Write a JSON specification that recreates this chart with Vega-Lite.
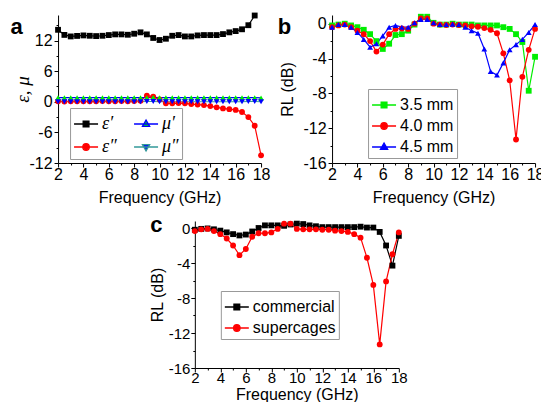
{
"$schema": "https://vega.github.io/schema/vega-lite/v6.json",
"padding": {"left": 9, "top": 12, "right": 0, "bottom": 0},
"datasets": {
"a": [
{"f":2,"v":14.1,"s":"ε′"},{"f":2.5,"v":13.1,"s":"ε′"},{"f":3,"v":12.8,"s":"ε′"},{"f":3.5,"v":12.9,"s":"ε′"},{"f":4,"v":13.0,"s":"ε′"},{"f":4.5,"v":12.93,"s":"ε′"},{"f":5,"v":12.87,"s":"ε′"},{"f":5.5,"v":12.93,"s":"ε′"},{"f":6,"v":13.07,"s":"ε′"},{"f":6.5,"v":13.2,"s":"ε′"},{"f":7,"v":13.2,"s":"ε′"},{"f":7.5,"v":13.13,"s":"ε′"},{"f":8,"v":13.33,"s":"ε′"},{"f":8.5,"v":13.6,"s":"ε′"},{"f":9,"v":13.2,"s":"ε′"},{"f":9.5,"v":12.5,"s":"ε′"},{"f":10,"v":12.1,"s":"ε′"},{"f":10.5,"v":12.35,"s":"ε′"},{"f":11,"v":12.93,"s":"ε′"},{"f":11.5,"v":13.07,"s":"ε′"},{"f":12,"v":12.8,"s":"ε′"},{"f":12.5,"v":12.8,"s":"ε′"},{"f":13,"v":13.0,"s":"ε′"},{"f":13.5,"v":13.07,"s":"ε′"},{"f":14,"v":13.07,"s":"ε′"},{"f":14.5,"v":13.07,"s":"ε′"},{"f":15,"v":13.26,"s":"ε′"},{"f":15.5,"v":13.6,"s":"ε′"},{"f":16,"v":13.85,"s":"ε′"},{"f":16.5,"v":14.2,"s":"ε′"},{"f":17,"v":15.0,"s":"ε′"},{"f":17.5,"v":16.9,"s":"ε′"},
{"f":2,"v":0.1,"s":"ε″"},{"f":2.5,"v":0.05,"s":"ε″"},{"f":3,"v":0.1,"s":"ε″"},{"f":3.5,"v":0.1,"s":"ε″"},{"f":4,"v":0.1,"s":"ε″"},{"f":4.5,"v":0.1,"s":"ε″"},{"f":5,"v":0.1,"s":"ε″"},{"f":5.5,"v":0.15,"s":"ε″"},{"f":6,"v":0.1,"s":"ε″"},{"f":6.5,"v":0.1,"s":"ε″"},{"f":7,"v":0.15,"s":"ε″"},{"f":7.5,"v":0.1,"s":"ε″"},{"f":8,"v":0.15,"s":"ε″"},{"f":8.5,"v":0.2,"s":"ε″"},{"f":9,"v":1.2,"s":"ε″"},{"f":9.5,"v":1.0,"s":"ε″"},{"f":10,"v":0.45,"s":"ε″"},{"f":10.5,"v":-0.3,"s":"ε″"},{"f":11,"v":-0.3,"s":"ε″"},{"f":11.5,"v":-0.25,"s":"ε″"},{"f":12,"v":-0.3,"s":"ε″"},{"f":12.5,"v":-0.45,"s":"ε″"},{"f":13,"v":-0.55,"s":"ε″"},{"f":13.5,"v":-0.65,"s":"ε″"},{"f":14,"v":-0.85,"s":"ε″"},{"f":14.5,"v":-1.1,"s":"ε″"},{"f":15,"v":-1.3,"s":"ε″"},{"f":15.5,"v":-1.45,"s":"ε″"},{"f":16,"v":-1.6,"s":"ε″"},{"f":16.5,"v":-2.0,"s":"ε″"},{"f":17,"v":-3.0,"s":"ε″"},{"f":17.5,"v":-4.7,"s":"ε″"},{"f":18,"v":-10.5,"s":"ε″"},
{"f":2,"v":0.8,"s":"μ′"},{"f":2.5,"v":0.8,"s":"μ′"},{"f":3,"v":0.8,"s":"μ′"},{"f":3.5,"v":0.8,"s":"μ′"},{"f":4,"v":0.8,"s":"μ′"},{"f":4.5,"v":0.8,"s":"μ′"},{"f":5,"v":0.8,"s":"μ′"},{"f":5.5,"v":0.8,"s":"μ′"},{"f":6,"v":0.8,"s":"μ′"},{"f":6.5,"v":0.8,"s":"μ′"},{"f":7,"v":0.8,"s":"μ′"},{"f":7.5,"v":0.8,"s":"μ′"},{"f":8,"v":0.8,"s":"μ′"},{"f":8.5,"v":0.8,"s":"μ′"},{"f":9,"v":0.8,"s":"μ′"},{"f":9.5,"v":0.85,"s":"μ′"},{"f":10,"v":0.8,"s":"μ′"},{"f":10.5,"v":0.8,"s":"μ′"},{"f":11,"v":0.8,"s":"μ′"},{"f":11.5,"v":0.8,"s":"μ′"},{"f":12,"v":0.8,"s":"μ′"},{"f":12.5,"v":0.8,"s":"μ′"},{"f":13,"v":0.8,"s":"μ′"},{"f":13.5,"v":0.8,"s":"μ′"},{"f":14,"v":0.8,"s":"μ′"},{"f":14.5,"v":0.8,"s":"μ′"},{"f":15,"v":0.8,"s":"μ′"},{"f":15.5,"v":0.8,"s":"μ′"},{"f":16,"v":0.8,"s":"μ′"},{"f":16.5,"v":0.8,"s":"μ′"},{"f":17,"v":0.8,"s":"μ′"},{"f":17.5,"v":0.8,"s":"μ′"},{"f":18,"v":0.75,"s":"μ′"},
{"f":2,"v":0.0,"s":"μ″"},{"f":2.5,"v":0.0,"s":"μ″"},{"f":3,"v":0.0,"s":"μ″"},{"f":3.5,"v":0.0,"s":"μ″"},{"f":4,"v":0.0,"s":"μ″"},{"f":4.5,"v":0.0,"s":"μ″"},{"f":5,"v":0.0,"s":"μ″"},{"f":5.5,"v":0.0,"s":"μ″"},{"f":6,"v":0.0,"s":"μ″"},{"f":6.5,"v":0.0,"s":"μ″"},{"f":7,"v":0.0,"s":"μ″"},{"f":7.5,"v":0.0,"s":"μ″"},{"f":8,"v":0.0,"s":"μ″"},{"f":8.5,"v":0.0,"s":"μ″"},{"f":9,"v":0.05,"s":"μ″"},{"f":9.5,"v":0.05,"s":"μ″"},{"f":10,"v":0.0,"s":"μ″"},{"f":10.5,"v":0.0,"s":"μ″"},{"f":11,"v":0.0,"s":"μ″"},{"f":11.5,"v":0.0,"s":"μ″"},{"f":12,"v":0.0,"s":"μ″"},{"f":12.5,"v":0.0,"s":"μ″"},{"f":13,"v":0.0,"s":"μ″"},{"f":13.5,"v":0.0,"s":"μ″"},{"f":14,"v":0.0,"s":"μ″"},{"f":14.5,"v":0.0,"s":"μ″"},{"f":15,"v":0.0,"s":"μ″"},{"f":15.5,"v":0.0,"s":"μ″"},{"f":16,"v":0.0,"s":"μ″"},{"f":16.5,"v":0.0,"s":"μ″"},{"f":17,"v":0.05,"s":"μ″"},{"f":17.5,"v":0.05,"s":"μ″"},{"f":18,"v":0.0,"s":"μ″"}
],
"b": [
{"f":2,"v":-0.2,"s":"3.5 mm"},{"f":2.5,"v":-0.1,"s":"3.5 mm"},{"f":3,"v":0.0,"s":"3.5 mm"},{"f":3.5,"v":-0.2,"s":"3.5 mm"},{"f":4,"v":-0.4,"s":"3.5 mm"},{"f":4.5,"v":-0.7,"s":"3.5 mm"},{"f":5,"v":-1.2,"s":"3.5 mm"},{"f":5.5,"v":-2.0,"s":"3.5 mm"},{"f":6,"v":-2.9,"s":"3.5 mm"},{"f":6.5,"v":-2.3,"s":"3.5 mm"},{"f":7,"v":-1.3,"s":"3.5 mm"},{"f":7.5,"v":-1.2,"s":"3.5 mm"},{"f":8,"v":-0.8,"s":"3.5 mm"},{"f":8.5,"v":-0.1,"s":"3.5 mm"},{"f":9,"v":0.8,"s":"3.5 mm"},{"f":9.5,"v":0.8,"s":"3.5 mm"},{"f":10,"v":0.1,"s":"3.5 mm"},{"f":10.5,"v":-0.1,"s":"3.5 mm"},{"f":11,"v":-0.1,"s":"3.5 mm"},{"f":11.5,"v":0.0,"s":"3.5 mm"},{"f":12,"v":-0.1,"s":"3.5 mm"},{"f":12.5,"v":-0.1,"s":"3.5 mm"},{"f":13,"v":-0.1,"s":"3.5 mm"},{"f":13.5,"v":-0.2,"s":"3.5 mm"},{"f":14,"v":-0.2,"s":"3.5 mm"},{"f":14.5,"v":-0.2,"s":"3.5 mm"},{"f":15,"v":-0.2,"s":"3.5 mm"},{"f":15.5,"v":-0.4,"s":"3.5 mm"},{"f":16,"v":-0.6,"s":"3.5 mm"},{"f":16.5,"v":-1.2,"s":"3.5 mm"},{"f":17,"v":-2.1,"s":"3.5 mm"},{"f":17.5,"v":-7.7,"s":"3.5 mm"},{"f":18,"v":-3.8,"s":"3.5 mm"},
{"f":2,"v":-0.4,"s":"4.0 mm"},{"f":2.5,"v":-0.2,"s":"4.0 mm"},{"f":3,"v":-0.1,"s":"4.0 mm"},{"f":3.5,"v":-0.4,"s":"4.0 mm"},{"f":4,"v":-0.8,"s":"4.0 mm"},{"f":4.5,"v":-1.2,"s":"4.0 mm"},{"f":5,"v":-2.0,"s":"4.0 mm"},{"f":5.5,"v":-3.2,"s":"4.0 mm"},{"f":6,"v":-2.4,"s":"4.0 mm"},{"f":6.5,"v":-1.2,"s":"4.0 mm"},{"f":7,"v":-0.6,"s":"4.0 mm"},{"f":7.5,"v":-0.55,"s":"4.0 mm"},{"f":8,"v":-0.6,"s":"4.0 mm"},{"f":8.5,"v":0.0,"s":"4.0 mm"},{"f":9,"v":0.6,"s":"4.0 mm"},{"f":9.5,"v":0.6,"s":"4.0 mm"},{"f":10,"v":0.0,"s":"4.0 mm"},{"f":10.5,"v":-0.1,"s":"4.0 mm"},{"f":11,"v":-0.15,"s":"4.0 mm"},{"f":11.5,"v":-0.1,"s":"4.0 mm"},{"f":12,"v":-0.15,"s":"4.0 mm"},{"f":12.5,"v":-0.2,"s":"4.0 mm"},{"f":13,"v":-0.3,"s":"4.0 mm"},{"f":13.5,"v":-0.35,"s":"4.0 mm"},{"f":14,"v":-0.5,"s":"4.0 mm"},{"f":14.5,"v":-0.7,"s":"4.0 mm"},{"f":15,"v":-1.1,"s":"4.0 mm"},{"f":15.5,"v":-3.4,"s":"4.0 mm"},{"f":16,"v":-6.5,"s":"4.0 mm"},{"f":16.5,"v":-13.3,"s":"4.0 mm"},{"f":17,"v":-6.1,"s":"4.0 mm"},{"f":17.5,"v":-3.0,"s":"4.0 mm"},{"f":18,"v":-0.6,"s":"4.0 mm"},
{"f":2,"v":-0.4,"s":"4.5 mm"},{"f":2.5,"v":-0.1,"s":"4.5 mm"},{"f":3,"v":-0.1,"s":"4.5 mm"},{"f":3.5,"v":-0.4,"s":"4.5 mm"},{"f":4,"v":-1.0,"s":"4.5 mm"},{"f":4.5,"v":-1.8,"s":"4.5 mm"},{"f":5,"v":-2.7,"s":"4.5 mm"},{"f":5.5,"v":-2.3,"s":"4.5 mm"},{"f":6,"v":-1.4,"s":"4.5 mm"},{"f":6.5,"v":-0.4,"s":"4.5 mm"},{"f":7,"v":-0.2,"s":"4.5 mm"},{"f":7.5,"v":-0.4,"s":"4.5 mm"},{"f":8,"v":-0.4,"s":"4.5 mm"},{"f":8.5,"v":0.1,"s":"4.5 mm"},{"f":9,"v":0.5,"s":"4.5 mm"},{"f":9.5,"v":0.5,"s":"4.5 mm"},{"f":10,"v":0.1,"s":"4.5 mm"},{"f":10.5,"v":-0.1,"s":"4.5 mm"},{"f":11,"v":-0.1,"s":"4.5 mm"},{"f":11.5,"v":-0.05,"s":"4.5 mm"},{"f":12,"v":-0.1,"s":"4.5 mm"},{"f":12.5,"v":-0.4,"s":"4.5 mm"},{"f":13,"v":-0.8,"s":"4.5 mm"},{"f":13.5,"v":-1.1,"s":"4.5 mm"},{"f":14,"v":-2.9,"s":"4.5 mm"},{"f":14.5,"v":-5.5,"s":"4.5 mm"},{"f":15,"v":-5.9,"s":"4.5 mm"},{"f":15.5,"v":-4.5,"s":"4.5 mm"},{"f":16,"v":-3.0,"s":"4.5 mm"},{"f":16.5,"v":-2.4,"s":"4.5 mm"},{"f":17,"v":-1.8,"s":"4.5 mm"},{"f":17.5,"v":-1.0,"s":"4.5 mm"},{"f":18,"v":-0.1,"s":"4.5 mm"}
],
"c": [
{"f":2,"v":-0.2,"s":"commercial"},{"f":2.5,"v":-0.1,"s":"commercial"},{"f":3,"v":-0.05,"s":"commercial"},{"f":3.5,"v":-0.15,"s":"commercial"},{"f":4,"v":-0.3,"s":"commercial"},{"f":4.5,"v":-0.5,"s":"commercial"},{"f":5,"v":-0.7,"s":"commercial"},{"f":5.5,"v":-0.85,"s":"commercial"},{"f":6,"v":-0.75,"s":"commercial"},{"f":6.5,"v":-0.4,"s":"commercial"},{"f":7,"v":0.0,"s":"commercial"},{"f":7.5,"v":0.3,"s":"commercial"},{"f":8,"v":0.3,"s":"commercial"},{"f":8.5,"v":0.3,"s":"commercial"},{"f":9,"v":0.25,"s":"commercial"},{"f":9.5,"v":0.4,"s":"commercial"},{"f":10,"v":0.5,"s":"commercial"},{"f":10.5,"v":0.45,"s":"commercial"},{"f":11,"v":0.3,"s":"commercial"},{"f":11.5,"v":0.2,"s":"commercial"},{"f":12,"v":0.1,"s":"commercial"},{"f":12.5,"v":0.1,"s":"commercial"},{"f":13,"v":0.1,"s":"commercial"},{"f":13.5,"v":0.1,"s":"commercial"},{"f":14,"v":0.1,"s":"commercial"},{"f":14.5,"v":0.1,"s":"commercial"},{"f":15,"v":0.15,"s":"commercial"},{"f":15.5,"v":0.05,"s":"commercial"},{"f":16,"v":0.05,"s":"commercial"},{"f":16.5,"v":-0.45,"s":"commercial"},{"f":17,"v":-2.0,"s":"commercial"},{"f":17.5,"v":-4.3,"s":"commercial"},{"f":18,"v":-0.9,"s":"commercial"},
{"f":2,"v":-0.35,"s":"supercages"},{"f":2.5,"v":-0.15,"s":"supercages"},{"f":3,"v":-0.1,"s":"supercages"},{"f":3.5,"v":-0.35,"s":"supercages"},{"f":4,"v":-0.7,"s":"supercages"},{"f":4.5,"v":-1.2,"s":"supercages"},{"f":5,"v":-2.0,"s":"supercages"},{"f":5.5,"v":-3.1,"s":"supercages"},{"f":6,"v":-2.4,"s":"supercages"},{"f":6.5,"v":-1.0,"s":"supercages"},{"f":7,"v":-0.6,"s":"supercages"},{"f":7.5,"v":-0.6,"s":"supercages"},{"f":8,"v":-0.5,"s":"supercages"},{"f":8.5,"v":-0.1,"s":"supercages"},{"f":9,"v":0.5,"s":"supercages"},{"f":9.5,"v":0.5,"s":"supercages"},{"f":10,"v":-0.1,"s":"supercages"},{"f":10.5,"v":-0.15,"s":"supercages"},{"f":11,"v":-0.15,"s":"supercages"},{"f":11.5,"v":-0.15,"s":"supercages"},{"f":12,"v":-0.2,"s":"supercages"},{"f":12.5,"v":-0.2,"s":"supercages"},{"f":13,"v":-0.3,"s":"supercages"},{"f":13.5,"v":-0.35,"s":"supercages"},{"f":14,"v":-0.45,"s":"supercages"},{"f":14.5,"v":-0.7,"s":"supercages"},{"f":15,"v":-1.1,"s":"supercages"},{"f":15.5,"v":-3.4,"s":"supercages"},{"f":16,"v":-6.5,"s":"supercages"},{"f":16.5,"v":-13.3,"s":"supercages"},{"f":17,"v":-6.1,"s":"supercages"},{"f":17.5,"v":-3.0,"s":"supercages"},{"f":18,"v":-0.5,"s":"supercages"}
]
},
"vconcat": [
{
"hconcat": [
{
"width": 203, "height": 148,
"data": {"name": "a"},
"layer": [
{"mark": {"type": "line", "strokeWidth": 1.2},
 "encoding": {
  "x": {"field": "f", "type": "quantitative", "scale": {"domain": [2, 18], "nice": false, "zero": false},
        "axis": {"orient": "bottom", "title": "Frequency (GHz)", "labelPadding": -1, "titlePadding": 7, "values": [2,4,6,8,10,12,14,16,18], "labelExpr": "'' + datum.value", "tickSize": 4}},
  "y": {"field": "v", "type": "quantitative", "scale": {"domain": [-12, 17], "nice": false, "zero": false},
        "axis": {"orient": "left", "title": "ε, μ", "titleFont": "Liberation Serif", "titleFontStyle": "italic", "titleFontSize": 19, "titlePadding": -4, "values": [-12,-6,0,6,12], "labelExpr": "'' + datum.value", "tickSize": 4}},
  "stroke": {"field": "s", "type": "nominal", "scale": {"domain": ["ε′","ε″","μ′","μ″"], "range": ["#000000","#ff0000","#0000ff","#339999"]}, "legend": null}
 }},
{"mark": {"type": "point", "filled": true, "size": 34, "opacity": 1},
 "encoding": {
  "x": {"field": "f", "type": "quantitative", "axis": {"orient": "bottom", "title": null, "labels": false, "domain": false, "tickSize": 2, "values": [3,5,7,9,11,13,15,17]}},
  "y": {"field": "v", "type": "quantitative", "axis": {"orient": "left", "title": "a", "titleAngle": 0, "titleAlign": "center", "titleBaseline": "alphabetic", "titleX": -42, "titleY": 18, "titleFontSize": 22, "titleFontWeight": "bold", "labels": false, "domain": false, "tickSize": 2, "values": [-9,-3,3,9,15]}},
  "color": {"field": "s", "type": "nominal", "scale": {"domain": ["ε′","ε″","μ′","μ″"], "range": ["#000000","#ff0000","#00ee00","#0000ff"]}, "legend": null},
  "shape": {"field": "s", "type": "nominal", "scale": {"domain": ["ε′","ε″","μ′","μ″"], "range": ["square","circle","triangle-up","triangle-down"]}, "legend": null}
 }},
{"mark": {"type": "point", "opacity": 0, "filled": true, "strokeWidth": 1.3},
 "encoding": {
  "x": {"field": "f", "type": "quantitative", "axis": null},
  "y": {"field": "v", "type": "quantitative", "axis": null},
  "fill": {"field": "s", "type": "nominal", "scale": {"domain": ["ε′","ε″","μ′","μ″"], "range": ["#000000","#ff0000","#00ee00","#0000ff"]},
           "legend": {"orient": "none", "legendX": 12, "legendY": 93, "title": null, "columns": 2, "columnPadding": 14, "rowPadding": 1, "labelFont": "Liberation Serif", "labelFontStyle": "italic", "labelFontSize": 18, "direction": "vertical"}},
  "stroke": {"field": "s", "type": "nominal", "scale": {"domain": ["ε′","ε″","μ′","μ″"], "range": ["#000000","#ff0000","#0000ff","#339999"]},
           "legend": {"orient": "none", "legendX": 12, "legendY": 93, "title": null, "columns": 2, "columnPadding": 14, "rowPadding": 1, "labelFont": "Liberation Serif", "labelFontStyle": "italic", "labelFontSize": 18, "direction": "vertical"}},
  "shape": {"field": "s", "type": "nominal", "scale": {"domain": ["ε′","ε″","μ′","μ″"], "range": ["M-1,0H1M-0.24,-0.24H0.24V0.24H-0.24Z","M-1,0H1M-0.27,0A0.27,0.27 0 1,0 0.27,0A0.27,0.27 0 1,0 -0.27,0Z","M-1,0H1M0,-0.32L0.3,0.2L-0.3,0.2Z","M-1,0H1M0,0.32L0.3,-0.2L-0.3,-0.2Z"]},
           "legend": {"orient": "none", "legendX": 12, "legendY": 93, "title": null, "columns": 2, "columnPadding": 14, "rowPadding": 1, "labelFont": "Liberation Serif", "labelFontStyle": "italic", "labelFontSize": 18, "direction": "vertical"}}
 }}
],
"resolve": {"scale": {"color": "independent", "fill": "independent", "stroke": "independent", "shape": "independent"}, "axis": {"x": "independent", "y": "independent"}}
},
{
"width": 203, "height": 148,
"data": {"name": "b"},
"layer": [
{"mark": {"type": "line", "strokeWidth": 1.2},
 "encoding": {
  "x": {"field": "f", "type": "quantitative", "scale": {"domain": [2, 18], "nice": false, "zero": false},
        "axis": {"orient": "bottom", "title": "Frequency (GHz)", "labelPadding": -1, "titlePadding": 7, "values": [2,4,6,8,10,12,14,16,18], "labelExpr": "'' + datum.value", "tickSize": 4}},
  "y": {"field": "v", "type": "quantitative", "scale": {"domain": [-16, 1], "nice": false, "zero": false},
        "axis": {"orient": "left", "title": "RL (dB)", "titlePadding": 7, "values": [-16,-12,-8,-4,0], "labelExpr": "'' + datum.value", "tickSize": 4}},
  "stroke": {"field": "s", "type": "nominal", "scale": {"domain": ["3.5 mm","4.0 mm","4.5 mm"], "range": ["#00ee00","#ff0000","#0000ff"]}, "legend": null}
 }},
{"mark": {"type": "point", "filled": true, "size": 34, "opacity": 1},
 "encoding": {
  "x": {"field": "f", "type": "quantitative", "axis": {"orient": "bottom", "title": null, "labels": false, "domain": false, "tickSize": 2, "values": [3,5,7,9,11,13,15,17]}},
  "y": {"field": "v", "type": "quantitative", "axis": {"orient": "left", "title": "b", "titleAngle": 0, "titleAlign": "center", "titleBaseline": "alphabetic", "titleX": -48, "titleY": 18, "titleFontSize": 22, "titleFontWeight": "bold", "labels": false, "domain": false, "tickSize": 2, "values": [-14,-10,-6,-2]}},
  "color": {"field": "s", "type": "nominal", "scale": {"domain": ["3.5 mm","4.0 mm","4.5 mm"], "range": ["#00ee00","#ff0000","#0000ff"]}, "legend": null},
  "shape": {"field": "s", "type": "nominal", "scale": {"domain": ["3.5 mm","4.0 mm","4.5 mm"], "range": ["square","circle","triangle-up"]}, "legend": null}
 }},
{"mark": {"type": "point", "opacity": 0, "filled": true, "strokeWidth": 1.3},
 "encoding": {
  "x": {"field": "f", "type": "quantitative", "axis": null},
  "y": {"field": "v", "type": "quantitative", "axis": null},
  "fill": {"field": "s", "type": "nominal", "scale": {"domain": ["3.5 mm","4.0 mm","4.5 mm"], "range": ["#00ee00","#ff0000","#0000ff"]},
           "legend": {"orient": "none", "legendX": 36, "legendY": 74, "title": null, "direction": "vertical"}},
  "stroke": {"field": "s", "type": "nominal", "scale": {"domain": ["3.5 mm","4.0 mm","4.5 mm"], "range": ["#00ee00","#ff0000","#0000ff"]},
           "legend": {"orient": "none", "legendX": 36, "legendY": 74, "title": null, "direction": "vertical"}},
  "shape": {"field": "s", "type": "nominal", "scale": {"domain": ["3.5 mm","4.0 mm","4.5 mm"], "range": ["M-1,0H1M-0.24,-0.24H0.24V0.24H-0.24Z","M-1,0H1M-0.27,0A0.27,0.27 0 1,0 0.27,0A0.27,0.27 0 1,0 -0.27,0Z","M-1,0H1M0,-0.32L0.3,0.2L-0.3,0.2Z"]},
           "legend": {"orient": "none", "legendX": 36, "legendY": 74, "title": null, "direction": "vertical"}}
 }}
],
"resolve": {"scale": {"color": "independent", "fill": "independent", "stroke": "independent", "shape": "independent"}, "axis": {"x": "independent", "y": "independent"}}
}
],
"spacing": 7,
"resolve": {"scale": {"color": "independent", "fill": "independent", "stroke": "independent", "shape": "independent"}}
},
{
"width": 204, "height": 147,
"data": {"name": "c"},
"layer": [
{"mark": {"type": "line", "strokeWidth": 1.2},
 "encoding": {
  "x": {"field": "f", "type": "quantitative", "scale": {"domain": [2, 18], "nice": false, "zero": false},
        "axis": {"orient": "bottom", "title": "Frequency (GHz)", "labelFontSize": 15, "labelPadding": -2, "titlePadding": 1, "values": [2,4,6,8,10,12,14,16,18], "labelExpr": "'' + datum.value", "tickSize": 4}},
  "y": {"field": "v", "type": "quantitative", "scale": {"domain": [-16, 0.8], "nice": false, "zero": false},
        "axis": {"orient": "left", "title": "RL (dB)", "labelFontSize": 15, "labelPadding": 1, "titlePadding": 3, "values": [-16,-12,-8,-4,0], "labelExpr": "'' + datum.value", "tickSize": 4}},
  "stroke": {"field": "s", "type": "nominal", "scale": {"domain": ["commercial","supercages"], "range": ["#000000","#ff0000"]}, "legend": null}
 }},
{"mark": {"type": "point", "filled": true, "size": 34, "opacity": 1},
 "encoding": {
  "x": {"field": "f", "type": "quantitative", "axis": {"orient": "bottom", "title": null, "labels": false, "domain": false, "tickSize": 2, "values": [3,5,7,9,11,13,15,17]}},
  "y": {"field": "v", "type": "quantitative", "axis": {"orient": "left", "title": "c", "titleAngle": 0, "titleAlign": "center", "titleBaseline": "alphabetic", "titleX": -39, "titleY": 10, "titleFontSize": 22, "titleFontWeight": "bold", "labels": false, "domain": false, "tickSize": 2, "values": [-14,-10,-6,-2]}},
  "color": {"field": "s", "type": "nominal", "scale": {"domain": ["commercial","supercages"], "range": ["#000000","#ff0000"]}, "legend": null},
  "shape": {"field": "s", "type": "nominal", "scale": {"domain": ["commercial","supercages"], "range": ["square","circle"]}, "legend": null}
 }},
{"mark": {"type": "point", "opacity": 0, "filled": true, "strokeWidth": 1.3},
 "encoding": {
  "x": {"field": "f", "type": "quantitative", "axis": null},
  "y": {"field": "v", "type": "quantitative", "axis": {"orient": "left", "offset": 64, "title": null, "labels": false, "domain": false, "tickSize": 2, "tickColor": "transparent", "values": [0]}},
  "fill": {"field": "s", "type": "nominal", "scale": {"domain": ["commercial","supercages"], "range": ["#000000","#ff0000"]},
           "legend": {"orient": "none", "legendX": 26, "legendY": 70, "title": null, "direction": "vertical"}},
  "stroke": {"field": "s", "type": "nominal", "scale": {"domain": ["commercial","supercages"], "range": ["#000000","#ff0000"]},
           "legend": {"orient": "none", "legendX": 26, "legendY": 70, "title": null, "direction": "vertical"}},
  "shape": {"field": "s", "type": "nominal", "scale": {"domain": ["commercial","supercages"], "range": ["M-1,0H1M-0.24,-0.24H0.24V0.24H-0.24Z","M-1,0H1M-0.27,0A0.27,0.27 0 1,0 0.27,0A0.27,0.27 0 1,0 -0.27,0Z"]},
           "legend": {"orient": "none", "legendX": 26, "legendY": 70, "title": null, "direction": "vertical"}}
 }}
],
"resolve": {"scale": {"color": "independent", "fill": "independent", "stroke": "independent", "shape": "independent"}, "axis": {"x": "independent", "y": "independent"}}
}
],
"spacing": 8,
"center": true,
"resolve": {"scale": {"color": "independent", "fill": "independent", "stroke": "independent", "shape": "independent"}},
"config": {
"view": {"stroke": null},
"font": "Liberation Sans",
"axis": {"domainColor": "#000", "tickColor": "#000", "labelColor": "#000", "titleColor": "#000", "labelFont": "Liberation Sans", "titleFont": "Liberation Sans", "labelFontSize": 16, "titleFontSize": 16, "titleFontWeight": "normal", "grid": false, "labelFlush": false, "labelOverlap": false, "labelPadding": 2, "domainWidth": 1, "tickWidth": 1},
"legend": {"labelFont": "Liberation Sans", "labelFontSize": 16, "labelColor": "#000", "symbolSize": 576, "symbolStrokeWidth": 1.3, "symbolFillColor": "#000", "strokeColor": "#999", "padding": 3, "rowPadding": -5, "labelOffset": 3}
}
}
